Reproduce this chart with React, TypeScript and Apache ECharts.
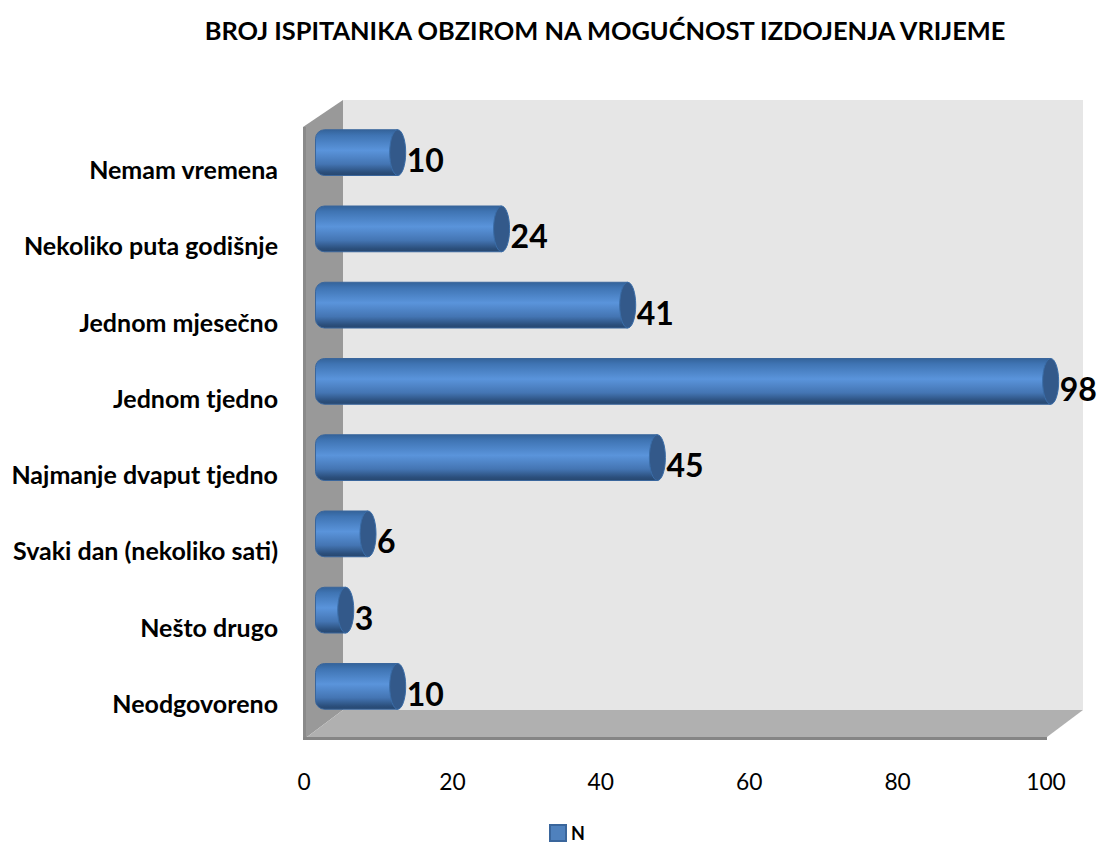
import React, { useEffect, useRef } from "react";
import * as echarts from "echarts";

const titleText = "BROJ ISPITANIKA OBZIROM NA MOGUĆNOST IZDOJENJA VRIJEME";
const categories = [
  "Nemam vremena",
  "Nekoliko puta godišnje",
  "Jednom mjesečno",
  "Jednom tjedno",
  "Najmanje dvaput tjedno",
  "Svaki dan (nekoliko sati)",
  "Nešto drugo",
  "Neodgovoreno",
];
const values = [10, 24, 41, 98, 45, 6, 3, 10];
const seriesName = "N";

const FONT = "Lato, Carlito, 'Open Sans', sans-serif";
const DEPTH_X = 19.5;
const DEPTH_Y = -16.5;
const RX = 8;

export default function App() {
  const ref = useRef<HTMLDivElement>(null);
  useEffect(() => {
    const chart = echarts.init(ref.current!, null, { renderer: "svg" });
    const bodyFill = new echarts.graphic.LinearGradient(0, 0, 0, 1, [
      { offset: 0, color: "#34639a" },
      { offset: 0.12, color: "#3f74b3" },
      { offset: 0.45, color: "#5a94db" },
      { offset: 0.75, color: "#4475b3" },
      { offset: 0.93, color: "#2b4f7c" },
      { offset: 1, color: "#27476f" },
    ]);
    chart.setOption({
      animation: false,
      backgroundColor: "#ffffff",
      title: {
        text: titleText,
        left: 600,
        top: 12,
        textAlign: "center",
        textStyle: { fontFamily: FONT, fontSize: 25.4, fontWeight: "bold", color: "#000" },
      },
      legend: {
        data: [seriesName],
        left: 549,
        top: 824,
        padding: 0,
        itemWidth: 16,
        itemHeight: 16,
        itemGap: 5,
        icon: "rect",
        itemStyle: { color: "#4f81bd", borderColor: "#3a669c", borderWidth: 2 },
        textStyle: { fontFamily: FONT, fontSize: 18, lineHeight: 16, fontWeight: "bold", color: "#000" },
      },
      grid: { left: 304, top: 131, width: 742, height: 610, containLabel: false },
      xAxis: {
        type: "value",
        min: 0,
        max: 100,
        interval: 20,
        axisLine: { show: false },
        axisTick: { show: false },
        splitLine: { show: false },
        axisLabel: { margin: 28, fontFamily: FONT, fontSize: 22.8, color: "#000" },
      },
      yAxis: {
        type: "category",
        inverse: true,
        data: categories,
        axisLine: { show: false },
        axisTick: { show: false },
        axisLabel: { margin: 26, fontFamily: FONT, fontSize: 25, fontWeight: "bold", color: "#000" },
      },
      graphic: {
        elements: [
          { type: "polygon", z: -10, shape: { points: [[343, 100], [1083, 100], [1083, 710], [343, 710]] }, style: { fill: "#e6e6e6" } },
          { type: "polygon", z: -9, shape: { points: [[303, 127], [343, 100], [343, 710], [303, 740]] }, style: { fill: "#999999" } },
          { type: "rect", z: -8, shape: { x: 303, y: 127, width: 3, height: 613 }, style: { fill: "#8a8a8a" } },
          { type: "polygon", z: -8, shape: { points: [[343, 710], [1083, 710], [1047, 737], [307, 737]] }, style: { fill: "#b0b0b0" } },
          { type: "rect", z: -7, shape: { x: 303, y: 737, width: 744, height: 3 }, style: { fill: "#858585" } },
        ],
      },
      series: [
        {
          type: "custom",
          name: seriesName,
          coordinateSystem: "cartesian2d",
          clip: false,
          z: 5,
          itemStyle: { color: "#4f81bd" },
          encode: { x: 0, y: 1 },
          data: values.map((v, i) => [v, i]),
          renderItem: (_params: any, api: any) => {
            const value = api.value(0);
            const start = api.coord([0, api.value(1)]);
            const end = api.coord([value, api.value(1)]);
            const h = (api.size([0, 1]) as number[])[1] * 0.6;
            const ry = h / 2;
            const x0 = start[0] + DEPTH_X;
            const x1 = end[0] + DEPTH_X;
            const cy = end[1] + DEPTH_Y;
            return {
              type: "group",
              children: [
                { type: "rect", shape: { x: x0 - RX, y: cy - ry, width: x1 - x0 + RX, height: h, r: [9, 0, 0, 9] }, style: { fill: bodyFill, stroke: "#3a669c", lineWidth: 1 } },
                { type: "ellipse", shape: { cx: x1, cy, rx: RX, ry }, style: { fill: "#33598a", stroke: "#3a6da8", lineWidth: 1 } },
                {
                  type: "text",
                  style: {
                    x: x1 + RX + 1,
                    y: cy + 7,
                    text: String(value),
                    fill: "#000",
                    font: `bold 32px ${FONT}`,
                    textAlign: "left",
                    textVerticalAlign: "middle",
                  },
                },
              ],
            };
          },
        },
      ],
    });
    return () => chart.dispose();
  }, []);
  return <div ref={ref} style={{ position: "absolute", left: 0, top: 0, width: 1097, height: 843 }} />;
}
